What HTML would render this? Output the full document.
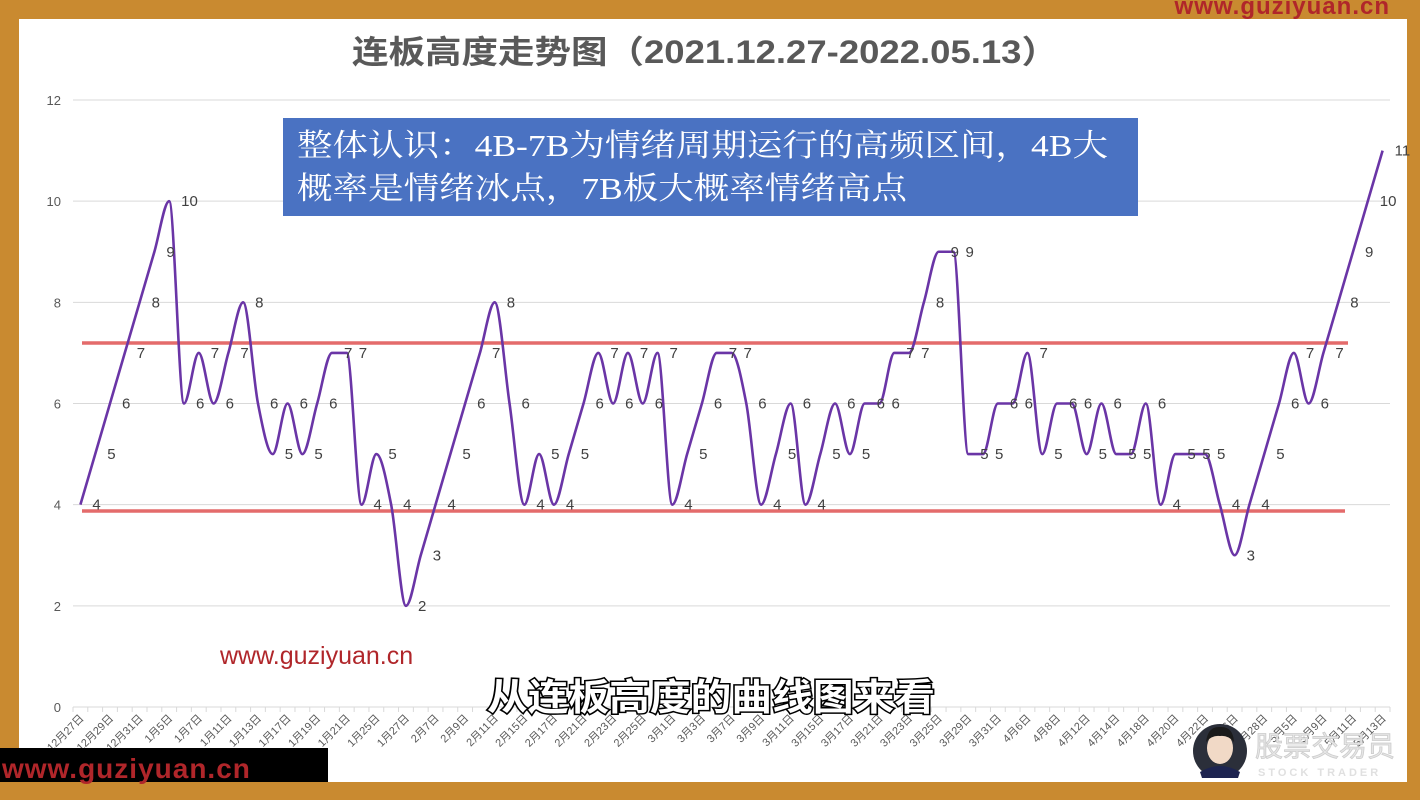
<!DOCTYPE html>
<html><head><meta charset="utf-8">
<style>
html,body{margin:0;padding:0;background:#c98a30;}
svg{display:block;}
</style></head>
<body>
<svg id="chart" width="1420" height="800" viewBox="0 0 1420 800" xmlns="http://www.w3.org/2000/svg">
  <rect x="0" y="0" width="1420" height="800" fill="#c98a30"/>
  <rect x="19" y="19" width="1388" height="763" fill="#ffffff"/>
  <text x="1390" y="14" text-anchor="end" font-family="Liberation Sans, sans-serif" font-weight="bold" font-size="24" fill="#b0262a" letter-spacing="1">www.guziyuan.cn</text>
  <text x="352" y="63" font-family="Liberation Sans, Noto Sans CJK SC, sans-serif" font-weight="bold" font-size="32" fill="#595959" textLength="706" lengthAdjust="spacingAndGlyphs">连板高度走势图（2021.12.27-2022.05.13）</text>
  <g id="grid"></g>
  <g id="yaxis"></g>
  <g id="xaxis"></g>
  <line x1="82" y1="343" x2="1348" y2="343" stroke="#e46b6b" stroke-width="3.5"/>
  <line x1="82" y1="511" x2="1345" y2="511" stroke="#e46b6b" stroke-width="3.5"/>
  <g id="series"></g>
  <g id="labels"></g>
  <g>
    <rect x="283" y="118" width="855" height="98" fill="#4a72c2"/>
    <text x="297" y="156" font-family="Liberation Serif, Noto Serif CJK SC, serif" font-size="31" fill="#ffffff" textLength="811" lengthAdjust="spacingAndGlyphs">整体认识：4B-7B为情绪周期运行的高频区间，4B大</text>
    <text x="297" y="199" font-family="Liberation Serif, Noto Serif CJK SC, serif" font-size="31" fill="#ffffff" textLength="610" lengthAdjust="spacingAndGlyphs">概率是情绪冰点，7B板大概率情绪高点</text>
  </g>
  <text x="220" y="664" font-family="Liberation Sans, sans-serif" font-size="25" fill="#b0262a">www.guziyuan.cn</text>
  <text x="487" y="710" font-family="Liberation Sans, Noto Sans CJK SC, sans-serif" font-weight="bold" font-size="37" fill="#ffffff" stroke="#000000" stroke-width="3" paint-order="stroke" textLength="448" lengthAdjust="spacingAndGlyphs">从连板高度的曲线图来看</text>
  <rect x="0" y="748" width="328" height="34" fill="#000000"/>
  <text x="2" y="778" font-family="Liberation Sans, sans-serif" font-weight="bold" font-size="28" fill="#b0262a" letter-spacing="1">www.guziyuan.cn</text>
  <g>
    <circle cx="1220" cy="751" r="27" fill="#2b2f3a"/>
    <ellipse cx="1220" cy="748" rx="13" ry="16" fill="#f1d9c6"/>
    <path d="M1206 742 Q1208 726 1220 727 Q1233 726 1234 742 Q1228 735 1220 736 Q1212 735 1206 742Z" fill="#1a1a1a"/>
    <path d="M1200 772 Q1220 760 1240 772 L1238 778 L1202 778Z" fill="#1d2450"/>
    <text x="1255" y="756" font-family="Liberation Sans, Noto Sans CJK SC, sans-serif" font-size="28" fill="#e6e6e6" stroke="#cccccc" stroke-width="0.8">股票交易员</text>
    <text x="1258" y="776" font-family="Liberation Sans, sans-serif" font-weight="bold" font-size="11" fill="#e0e0e0" letter-spacing="3">STOCK TRADER</text>
  </g>
</svg>
<script>
const values = [4,5,6,7,8,9,10,6,7,6,7,8,6,5,6,5,6,7,7,4,5,4,2,3,4,5,6,7,8,6,
                4,5,4,5,6,7,6,7,6,7,4,5,6,7,7,6,4,5,6,4,5,6,5,6,6,7,7,8,9,9,
                5,5,6,6,7,5,6,6,5,6,5,5,6,4,5,5,5,4,3,4,5,6,7,6,7,8,9,10,11];
const dates = ["12月27日","12月28日","12月29日","12月30日","12月31日",
 "1月4日","1月5日","1月6日","1月7日","1月10日","1月11日","1月12日","1月13日","1月14日","1月17日","1月18日","1月19日","1月20日","1月21日","1月24日","1月25日","1月26日","1月27日","1月28日",
 "2月7日","2月8日","2月9日","2月10日","2月11日","2月14日","2月15日","2月16日","2月17日","2月18日","2月21日","2月22日","2月23日","2月24日","2月25日","2月28日",
 "3月1日","3月2日","3月3日","3月4日","3月7日","3月8日","3月9日","3月10日","3月11日","3月14日","3月15日","3月16日","3月17日","3月18日","3月21日","3月22日","3月23日","3月24日","3月25日","3月28日","3月29日","3月30日","3月31日",
 "4月1日","4月6日","4月7日","4月8日","4月11日","4月12日","4月13日","4月14日","4月15日","4月18日","4月19日","4月20日","4月21日","4月22日","4月25日","4月26日","4月27日","4月28日","4月29日",
 "5月5日","5月6日","5月9日","5月10日","5月11日","5月12日","5月13日"];
const yTicks = [0,2,4,6,8,10,12];

const NS = "http://www.w3.org/2000/svg";
const plotL = 73, plotR = 1390, yTop = 100, yBot = 707, yMax = 12;
const step = (plotR - plotL) / values.length;
function xScale(i){ return plotL + step * (i + 0.5); }
function yScale(v){ return yBot - (yBot - yTop) * v / yMax; }
function mk(tag, attrs, parent){
  const el = document.createElementNS(NS, tag);
  for (const k in attrs) el.setAttribute(k, attrs[k]);
  parent.appendChild(el);
  return el;
}
const grid = document.getElementById('grid');
const yaxis = document.getElementById('yaxis');
yTicks.forEach(t => {
  const ln = mk('line', {x1: plotL, x2: plotR, y1: yScale(t), y2: yScale(t), stroke: '#d9d9d9', 'stroke-width': 1}, grid);
  
  
  const tx = mk('text', {x: 61, y: yScale(t) + 5, 'text-anchor': 'end', 'font-family': 'Liberation Sans, sans-serif', 'font-size': 13, fill: '#595959'}, yaxis);
  tx.textContent = t;
  
  
});
const xaxis = document.getElementById('xaxis');
for (let i = 0; i <= values.length; i++){
  const x = plotL + step * i;
  const tk = mk('line', {x1: x, x2: x, y1: yBot, y2: yBot + 5, stroke: '#d9d9d9', 'stroke-width': 1}, xaxis);
  
  
}
dates.forEach((d, i) => {
  if (i % 2 !== 0) return;
  const x = xScale(i) + 4, y = yBot + 12;
  const tx = mk('text', {x: x, y: y, 'text-anchor': 'end', transform: `rotate(-45 ${x} ${y})`, 'font-family': 'Liberation Sans, Noto Sans CJK SC, sans-serif', 'font-size': 11, fill: '#595959'}, xaxis);
  tx.textContent = d;
  
  
});
// smooth line without overshoot: zero slope at extrema/plateaus
const pts = values.map((v, i) => [xScale(i), yScale(v)]);
const n = pts.length;
const m = pts.map((p, i) => {
  if (i === 0) return (pts[1][1] - p[1]) / step;
  if (i === n - 1) return (p[1] - pts[n - 2][1]) / step;
  const d1 = p[1] - pts[i - 1][1], d2 = pts[i + 1][1] - p[1];
  if (d1 * d2 <= 0) return 0;
  return (d1 + d2) / (2 * step);
});
let dstr = `M${pts[0][0]},${pts[0][1]}`;
for (let i = 0; i < n - 1; i++){
  const p1 = pts[i], p2 = pts[i + 1], h = step / 3;
  dstr += ` C${p1[0] + h},${p1[1] + m[i] * h} ${p2[0] - h},${p2[1] - m[i + 1] * h} ${p2[0]},${p2[1]}`;
}
const series = document.getElementById('series');
const path = mk('path', {d: dstr, fill: 'none', stroke: '#6a35a6', 'stroke-width': 2.6, 'stroke-linejoin': 'round'}, series);


const labels = document.getElementById('labels');
values.forEach((v, i) => {
  const tx = mk('text', {x: xScale(i) + 12, y: yScale(v) + 5, 'font-family': 'Liberation Sans, sans-serif', 'font-size': 15, fill: '#404040'}, labels);
  tx.textContent = v;
  
  
});
</script>
</body></html>
